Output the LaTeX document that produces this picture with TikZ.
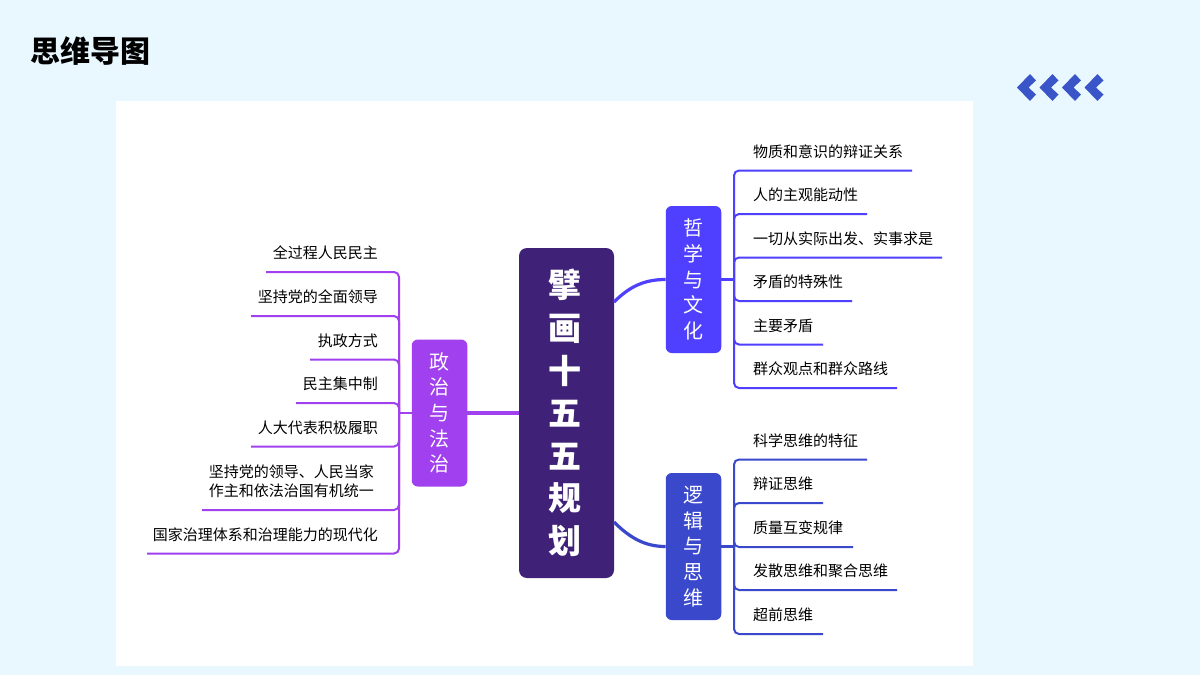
\documentclass[tikz,border=0pt]{standalone}
\usepackage{fontspec}
\setmainfont{Noto Sans CJK SC}
\begin{document}
\begin{tikzpicture}[x=1pt,y=-1pt,
  leaf/.style={inner sep=0pt,font=\fontsize{15}{19}\selectfont,text=black},
  leafr/.style={leaf,anchor=west},
  leafl/.style={leaf,anchor=east,align=right},
  hub/.style={rounded corners=6pt,text=white,inner sep=0pt,font=\fontsize{20}{25.7}\selectfont,align=center},
  tree/.style={line width=2pt,rounded corners=5pt},
  stem/.style={line width=3.2pt}]
\definecolor{bgc}{HTML}{E9F8FF}
\definecolor{cen}{HTML}{3F2178}
\definecolor{phi}{HTML}{4F3FFF}
\definecolor{logi}{HTML}{3A48CC}
\definecolor{pol}{HTML}{A040EE}
\definecolor{chev}{HTML}{3A55C8}
\useasboundingbox (0,0) rectangle (1200,675);
\fill[bgc] (0,0) rectangle (1200,675);
\fill[white] (116,101) rectangle (973,666);
\node[anchor=west,inner sep=0pt,font=\fontsize{30}{32}\selectfont\bfseries] (title) at (30,51) {思维导图};
\foreach \d in {0,22.5,45,67.5}
  \fill[chev,xshift=\d] (1017,87.5) -- (1030,74) -- (1036,80.5) -- (1028.5,87.5) -- (1036,94.5) -- (1030,101) -- cycle;

\node[fill=cen,rounded corners=8pt,minimum width=95pt,minimum height=330pt,inner sep=0pt] (center) at (566.5,413) {};
\node[text=white,inner sep=0pt,align=center,font=\fontsize{33}{42.6}\selectfont\bfseries] (centertext) at (564.5,413) {擘\\画\\十\\五\\五\\规\\划};
\node[hub,fill=phi,minimum width=55.5pt,minimum height=147pt] (phil) at (693.5,279.5) {哲\\学\\与\\文\\化};
\node[hub,fill=logi,minimum width=55.5pt,minimum height=147pt] (logic) at (693.5,546.5) {逻\\辑\\与\\思\\维};
\node[hub,fill=pol,minimum width=55.5pt,minimum height=147pt] (poli) at (439.5,413) {政\\治\\与\\法\\治};

\coordinate (cr1) at (614,302);
\coordinate (cr2) at (614,522);
\draw[stem,phi] (cr1) .. controls (630,286) and (645,279.5) .. (phil.west);
\draw[stem,logi] (cr2) .. controls (630,538) and (645,546.5) .. (logic.west);
\draw[stem,pol] (center.west |- poli.east) -- (poli.east);

% philosophy
\coordinate (ps) at (734,279.5);
\draw[phi,line width=2.4pt] (phil.east) -- (ps);
\foreach \n/\y/\e/\t in {p1/151/912/物质和意识的辩证关系,p2/194.5/867/人的主观能动性,p3/238/942/一切从实际出发、实事求是,p4/281.5/852/矛盾的特殊性,p5/325/823/主要矛盾,p6/368.5/897/群众观点和群众路线}{
  \node[leafr] (\n) at (753,\y+0.5) {\t};
  \coordinate (\n e) at (\e,\y+19.5);
  \draw[tree,phi] (ps) -- (734,\y+19.5) -- (\n e);
}
% logic
\coordinate (ls) at (734,546.5);
\draw[logi,line width=2.4pt] (logic.east) -- (ls);
\foreach \n/\y/\e/\t in {l1/440/867/科学思维的特征,l2/483.5/823/辩证思维,l3/527.5/853/质量互变规律,l4/570.5/897/发散思维和聚合思维,l5/614.5/823/超前思维}{
  \node[leafr] (\n) at (753,\y+0.5) {\t};
  \coordinate (\n e) at (\e,\y+19.5);
  \draw[tree,logi] (ls) -- (734,\y+19.5) -- (\n e);
}
% politics
\coordinate (os) at (399,413);
\draw[pol,line width=2.4pt] (poli.west) -- (os);
\foreach \n/\y/\u/\e/\t in {o1/253/272/266/全过程人民民主,o2/296.5/316/251/坚持党的全面领导,o3/340.5/359.5/310/执政方式,o4/384/403/296/民主集中制,o5/427.5/446.5/251/人大代表积极履职,o7/535/553.5/147/国家治理体系和治理能力的现代化}{
  \node[leafl] (\n) at (378,\y) {\t};
  \coordinate (\n e) at (\e,\u);
  \draw[tree,pol] (os) -- (399,\u) -- (\n e);
}
\node[leafl,align=left,anchor=east] (o6) at (374,481) {坚持党的领导、人民当家\\作主和依法治国有机统一};
\coordinate (o6e) at (202,510);
\draw[tree,pol] (os) -- (399,510) -- (o6e);
\end{tikzpicture}
\end{document}
